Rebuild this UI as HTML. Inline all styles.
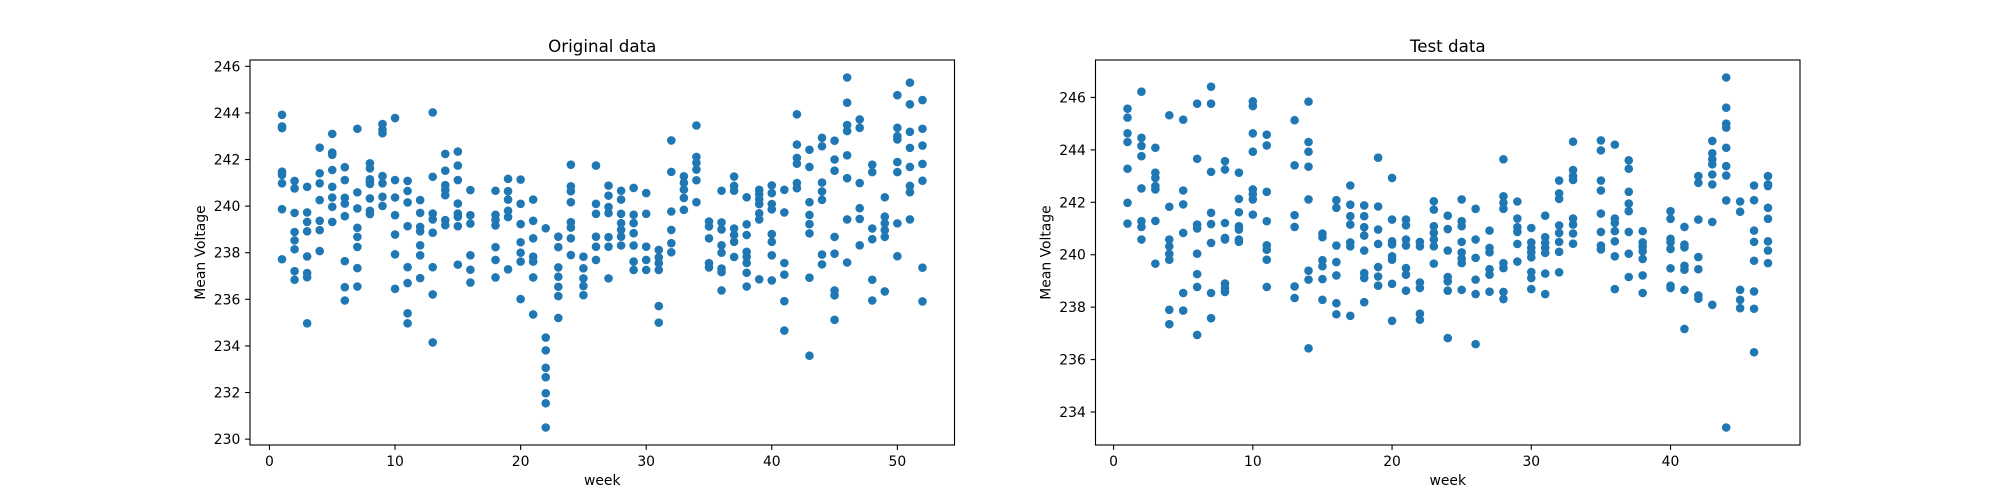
<!DOCTYPE html>
<html><head><meta charset="utf-8"><style>
html,body{margin:0;padding:0;background:#fff}
svg{display:block}
text{font-family:"DejaVu Sans","Liberation Sans",sans-serif;fill:#000}
</style></head><body>
<svg id="fig" width="2000" height="500" viewBox="0 0 2000 500" xmlns="http://www.w3.org/2000/svg">
<rect width="2000" height="500" fill="#fff"/>
</svg>
<script>
const origWeeks = [1,2,3,4,5,6,7,8,9,10,11,12,13,14,15,16,18,19,20,21,22,23,24,25,26,27,28,29,30,31,32,33,34,35,36,37,38,39,40,41,42,43,44,45,46,47,48,49,50,51,52];
const origValues = [
[243.92,243.42,243.35,241.48,241.34,240.98,239.87,237.72],
[241.08,240.76,239.71,238.89,238.53,238.15,237.21,236.84],
[240.83,239.73,239.32,238.92,237.84,237.13,236.95,234.97],
[242.51,241.41,240.98,240.26,239.37,238.97,238.07],
[243.1,242.3,242.2,241.55,240.83,240.37,239.97,239.32],
[241.67,241.12,240.36,240.11,239.57,237.64,236.52,235.95],
[243.32,240.59,239.9,239.07,238.68,238.25,237.34,236.55],
[241.84,241.62,241.15,241.05,240.95,240.33,239.8,239.66],
[243.52,243.28,243.13,241.29,240.98,240.4,240.01],
[243.78,241.12,240.37,239.61,238.78,237.93,236.45],
[241.08,240.65,240.16,239.14,237.38,236.7,235.4,234.97],
[240.26,239.71,239.11,238.92,238.32,237.89,236.91],
[244.02,241.26,239.68,239.43,238.86,237.38,236.21,234.15],
[242.24,241.52,240.9,240.69,240.47,239.4,239.18],
[242.34,241.74,241.12,240.11,239.68,239.54,239.14,237.49],
[240.69,239.61,239.25,237.89,237.27,236.72],
[240.66,239.63,239.41,239.17,238.24,237.69,236.94],
[241.17,240.64,240.28,239.8,239.53,237.29],
[241.14,240.1,239.23,238.45,238.0,237.62,236.01],
[240.28,239.37,238.62,237.83,237.62,236.94,235.35],
[239.05,234.36,233.81,233.06,232.66,231.97,231.54,230.5],
[238.69,238.24,237.37,236.97,236.54,236.14,235.2],
[241.78,240.85,240.64,240.17,239.31,239.08,238.62,237.9],
[237.83,237.33,236.9,236.57,236.18],
[241.74,240.1,239.67,238.69,238.26,237.69],
[240.88,240.45,239.96,239.7,238.67,238.26,236.9],
[240.66,240.28,239.67,239.27,238.98,238.69,238.31],
[240.78,239.63,239.27,238.84,238.31,237.62,237.26],
[240.56,239.67,238.26,237.69,237.26],
[238.12,237.8,237.55,237.26,235.71,235.0],
[242.82,241.47,239.77,238.98,238.41,238.02],
[241.28,241.0,240.71,240.35,239.84],
[243.46,242.11,241.86,241.57,241.11,240.17],
[239.34,239.13,238.62,237.55,237.37],
[240.66,239.3,239.0,238.32,238.0,237.32,237.17,236.38],
[241.27,240.87,240.66,239.04,238.76,238.47,237.82],
[240.38,239.22,238.76,238.04,237.82,237.56,237.14,236.55],
[240.7,240.51,240.3,240.09,239.69,239.43,236.86],
[240.89,240.56,240.09,239.86,238.8,238.47,237.89,236.81],
[240.7,239.73,237.56,237.06,235.92,234.66],
[243.94,242.64,242.07,241.82,240.99,240.77],
[242.42,241.68,240.17,239.62,239.23,238.83,236.93,233.58],
[242.93,242.57,241.01,240.63,240.27,237.92,237.5],
[242.81,242.0,241.52,238.68,237.96,236.38,236.17,235.12],
[245.52,244.44,243.48,243.22,242.18,241.2,239.43,237.58],
[243.72,243.36,240.99,239.91,239.45,238.32],
[241.78,241.46,239.04,238.58,236.84,235.95],
[240.38,239.55,239.26,238.97,238.68,236.34],
[244.76,243.36,243.0,242.86,241.89,241.46,239.26,237.85],
[245.3,244.37,243.19,242.5,241.68,240.87,240.6,239.43],
[244.55,243.32,242.6,241.81,241.09,237.36,235.91]
];
const origXTicks = [0,10,20,30,40,50];
const origYTicks = [230,232,234,236,238,240,242,244,246];

const testWeeks = [1,2,3,4,5,6,7,8,9,10,11,13,14,15,16,17,18,19,20,21,22,23,24,25,26,27,28,29,30,31,32,33,35,36,37,38,40,41,42,43,44,45,46,47];
const testValues = [
[245.57,245.23,244.63,244.3,243.28,241.98,241.19],
[246.22,244.46,244.15,243.76,242.53,241.28,241.06,240.58],
[244.08,243.13,242.93,242.62,242.49,241.29,239.66],
[245.32,241.83,240.58,240.32,240.03,239.81,237.9,237.35],
[245.15,242.45,241.92,240.83,238.54,237.87],
[245.76,243.66,241.15,241.0,240.04,239.26,238.77,236.94],
[246.41,245.76,243.16,241.6,241.17,240.45,238.54,237.58],
[243.57,243.25,241.21,240.64,240.58,238.9,238.73,238.58],
[243.13,242.13,241.62,241.09,240.96,240.58,240.49],
[245.85,245.67,244.63,243.93,242.49,242.3,242.11,241.53],
[244.58,244.17,242.4,241.28,240.36,240.19,239.81,238.77],
[245.13,243.41,241.51,241.06,238.79,238.35],
[245.84,244.3,243.93,243.36,242.11,239.39,239.05,236.43],
[240.81,240.67,239.79,239.56,239.07,238.28],
[242.08,241.79,240.35,239.72,239.21,238.15,237.73],
[242.64,241.91,241.47,241.15,240.47,240.32,237.67],
[241.88,241.47,241.05,240.73,240.16,239.3,239.11,238.19],
[243.7,241.84,240.96,240.41,239.53,239.17,238.82],
[242.93,241.34,240.51,240.39,239.94,239.81,238.89,237.48],
[241.34,241.12,240.58,240.35,239.49,239.24,238.63],
[240.49,240.32,238.94,238.73,237.75,237.52],
[242.04,241.72,241.09,240.83,240.58,240.32,239.66],
[241.49,240.98,240.16,239.15,238.98,238.63,236.82],
[242.11,241.28,241.09,240.49,240.09,239.85,239.68,238.66],
[241.75,240.58,239.88,239.05,238.5,236.59],
[240.92,240.26,240.09,239.45,239.24,238.59],
[243.64,242.23,241.98,241.75,239.68,239.49,238.58,238.31],
[242.03,241.38,241.05,240.87,240.41,239.74],
[241.02,240.47,240.26,240.09,239.9,239.34,239.11,238.69],
[241.49,240.67,240.45,240.26,240.07,239.28,238.5],
[242.83,242.34,242.13,241.12,240.83,240.49,240.11,239.33],
[244.31,243.23,243.0,242.85,241.38,241.15,240.81,240.42],
[244.36,243.98,242.83,242.45,241.57,240.87,240.35,240.2],
[244.2,241.38,241.21,240.9,240.51,239.94,238.69],
[243.6,243.28,242.4,241.95,241.66,240.87,240.04,239.15],
[240.9,240.47,240.3,240.13,239.84,239.21,238.54],
[241.66,241.37,240.61,240.47,240.22,239.48,238.82,238.73],
[241.06,240.39,240.28,239.58,239.43,238.66,237.17],
[243.0,242.74,241.34,239.91,239.45,238.45,238.32],
[244.34,243.87,243.64,243.45,243.06,242.68,241.25,238.09],
[246.76,245.61,245.0,244.85,244.08,243.38,243.02,242.07,233.41],
[242.03,241.64,238.66,238.28,237.96],
[242.64,242.08,240.92,240.49,239.77,238.6,237.94,236.28],
[243.0,242.68,242.62,241.79,241.37,240.51,240.16,239.68]
];
const testXTicks = [0,10,20,30,40];
const testYTicks = [234,236,238,240,242,244,246];

const NS = "http://www.w3.org/2000/svg";
const svg = document.getElementById('fig');
function mk(tag, attrs, parent){
  const e = document.createElementNS(NS, tag);
  for (const k in attrs) e.setAttribute(k, attrs[k]);
  (parent||svg).appendChild(e);
  return e;
}
function drawChart(key, title, weeks, values, xTicks, yTicks, L, R, T, B){
  const g = mk('g', {});
  
  
  let xmin = Infinity, xmax = -Infinity, ymin = Infinity, ymax = -Infinity;
  weeks.forEach((w,i) => {
    xmin = Math.min(xmin, w); xmax = Math.max(xmax, w);
    values[i].forEach(v => { ymin = Math.min(ymin, v); ymax = Math.max(ymax, v); });
  });
  const xr = xmax - xmin, yr = ymax - ymin;
  const x0 = xmin - 0.05*xr, x1 = xmax + 0.05*xr;
  const y0 = ymin - 0.05*yr, y1 = ymax + 0.05*yr;
  const sx = v => L + (v - x0) / (x1 - x0) * (R - L);
  const sy = v => B - (v - y0) / (y1 - y0) * (B - T);

  const pts = mk('g', {fill:'#1f77b4'}, g);
  
  
  weeks.forEach((w,i) => {
    values[i].forEach(v => {
      const c = mk('circle', {cx:sx(w).toFixed(2), cy:sy(v).toFixed(2), r:4.3}, pts);
      
      
    });
  });

  const frame = mk('rect', {x:L, y:T, width:R-L, height:B-T, fill:'none', stroke:'#000', 'stroke-width':1.1}, g);
  
  

  xTicks.forEach(t => {
    const x = sx(t);
    if (x < L - 0.5 || x > R + 0.5) return;
    mk('line', {x1:x, y1:B, x2:x, y2:B+4.9, stroke:'#000', 'stroke-width':1.1}, g);
    const tx = mk('text', {x:x, y:B+21, 'text-anchor':'middle', 'font-size':'13.9px'}, g);
    tx.textContent = t;
    
    
  });
  yTicks.forEach(t => {
    const y = sy(t);
    if (y < T - 0.5 || y > B + 0.5) return;
    mk('line', {x1:L-4.9, y1:y, x2:L, y2:y, stroke:'#000', 'stroke-width':1.1}, g);
    const ty = mk('text', {x:L-9.7, y:y+5, 'text-anchor':'end', 'font-size':'13.9px'}, g);
    ty.textContent = t;
    
    
  });
  const tt = mk('text', {x:(L+R)/2, y:T-8, 'text-anchor':'middle', 'font-size':'16.7px'}, g);
  tt.textContent = title;
  
  
  const xl = mk('text', {x:(L+R)/2, y:B+40, 'text-anchor':'middle', 'font-size':'13.9px'}, g);
  xl.textContent = 'week';
  
  
  const yc = (T+B)/2, yx = L - 45;
  const yl = mk('text', {x:yx, y:yc, 'text-anchor':'middle', 'font-size':'13.9px', transform:'rotate(-90 '+yx+' '+yc+')'}, g);
  yl.textContent = 'Mean Voltage';
  
  
}
drawChart('original', 'Original data', origWeeks, origValues, origXTicks, origYTicks, 250, 954.5, 60, 445);
drawChart('test', 'Test data', testWeeks, testValues, testXTicks, testYTicks, 1095.5, 1800, 60, 445);
</script>
</body></html>
